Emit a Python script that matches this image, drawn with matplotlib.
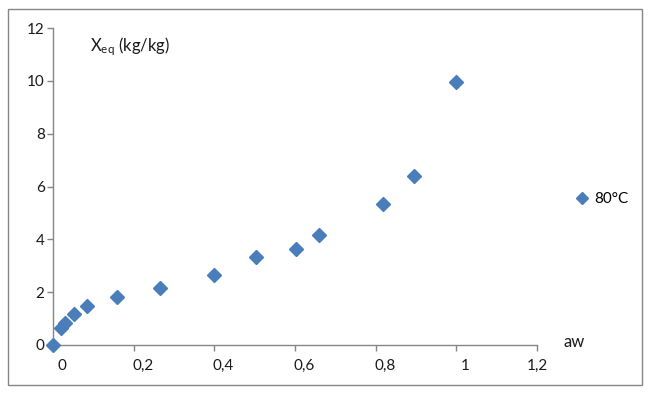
import matplotlib
matplotlib.use('Agg')
import matplotlib.pyplot as plt
import matplotlib.transforms as mtransforms
from matplotlib.patches import Rectangle

# sorption isotherm at 80 C
aw = [0.0, 0.02, 0.03, 0.052, 0.084, 0.159, 0.265, 0.40, 0.504, 0.603, 0.66, 0.819, 0.896, 1.0]
xeq = [0.0, 0.64, 0.83, 1.17, 1.48, 1.82, 2.16, 2.65, 3.33, 3.64, 4.17, 5.34, 6.40, 9.96]
series_name = '80°C'

x_ticks = [0, 0.2, 0.4, 0.6, 0.8, 1.0, 1.2]
x_tick_labels = ['0', '0,2', '0,4', '0,6', '0,8', '1', '1,2']
y_ticks = [0, 2, 4, 6, 8, 10, 12]
y_tick_labels = ['0', '2', '4', '6', '8', '10', '12']

plt.rcParams['font.family'] = ['Lato', 'DejaVu Sans']
plt.rcParams['mathtext.fontset'] = 'custom'
plt.rcParams['mathtext.rm'] = 'Lato'
plt.rcParams['mathtext.it'] = 'Lato'

W, H = 650, 394
fig = plt.figure(figsize=(W / 100, H / 100), dpi=100)
ax = fig.add_axes([53 / W, (H - 345) / H, (537 - 53) / W, (345 - 28) / H])

grey = '#868686'
blue = '#4A7EBB'

ax.plot(aw, xeq, linestyle='none', marker='D', ms=7.5, color=blue,
        markeredgecolor=blue, label=series_name, clip_on=False, zorder=3)

ax.set_xlim(0, 1.2)
ax.set_ylim(0, 12)
ax.set_xticks(x_ticks)
ax.set_xticklabels(x_tick_labels)
ax.set_yticks(y_ticks)
ax.set_yticklabels(y_tick_labels)

for s in ['top', 'right']:
    ax.spines[s].set_visible(False)
for s in ['left', 'bottom']:
    ax.spines[s].set_color(grey)
    ax.spines[s].set_linewidth(1)
ax.tick_params(axis='both', colors=grey, length=4, width=1, labelsize=11,
               labelcolor='#1a1a1a')
ax.tick_params(axis='x', pad=6)
ax.tick_params(axis='y', pad=2)

# Excel shifts the category labels a bit to the right
shift = mtransforms.ScaledTranslation(9 / 100, 0, fig.dpi_scale_trans)
for lbl in ax.get_xticklabels()[:-1]:
    lbl.set_transform(lbl.get_transform() + shift)

fig.text(90 / W, 1 - 47 / H, r'X$_{\mathrm{eq}}$ (kg/kg)', fontsize=12,
         ha='left', va='center', color='#1a1a1a')
fig.text(564 / W, 1 - 342 / H, 'aw', fontsize=12, ha='left', va='center',
         color='#1a1a1a')

ax.legend(loc='center left', bbox_to_anchor=(574 / W, 1 - 199 / H),
          bbox_transform=fig.transFigure, frameon=False, handlelength=1,
          handletextpad=0.3, borderaxespad=0, borderpad=0, fontsize=11,
          markerscale=0.8)

fig.patches.append(Rectangle((8 / W, 9 / H), (642 - 8) / W, (385 - 9) / H,
                             transform=fig.transFigure, fill=False,
                             edgecolor=grey, linewidth=1))

fig.savefig('out.png', dpi=100)
